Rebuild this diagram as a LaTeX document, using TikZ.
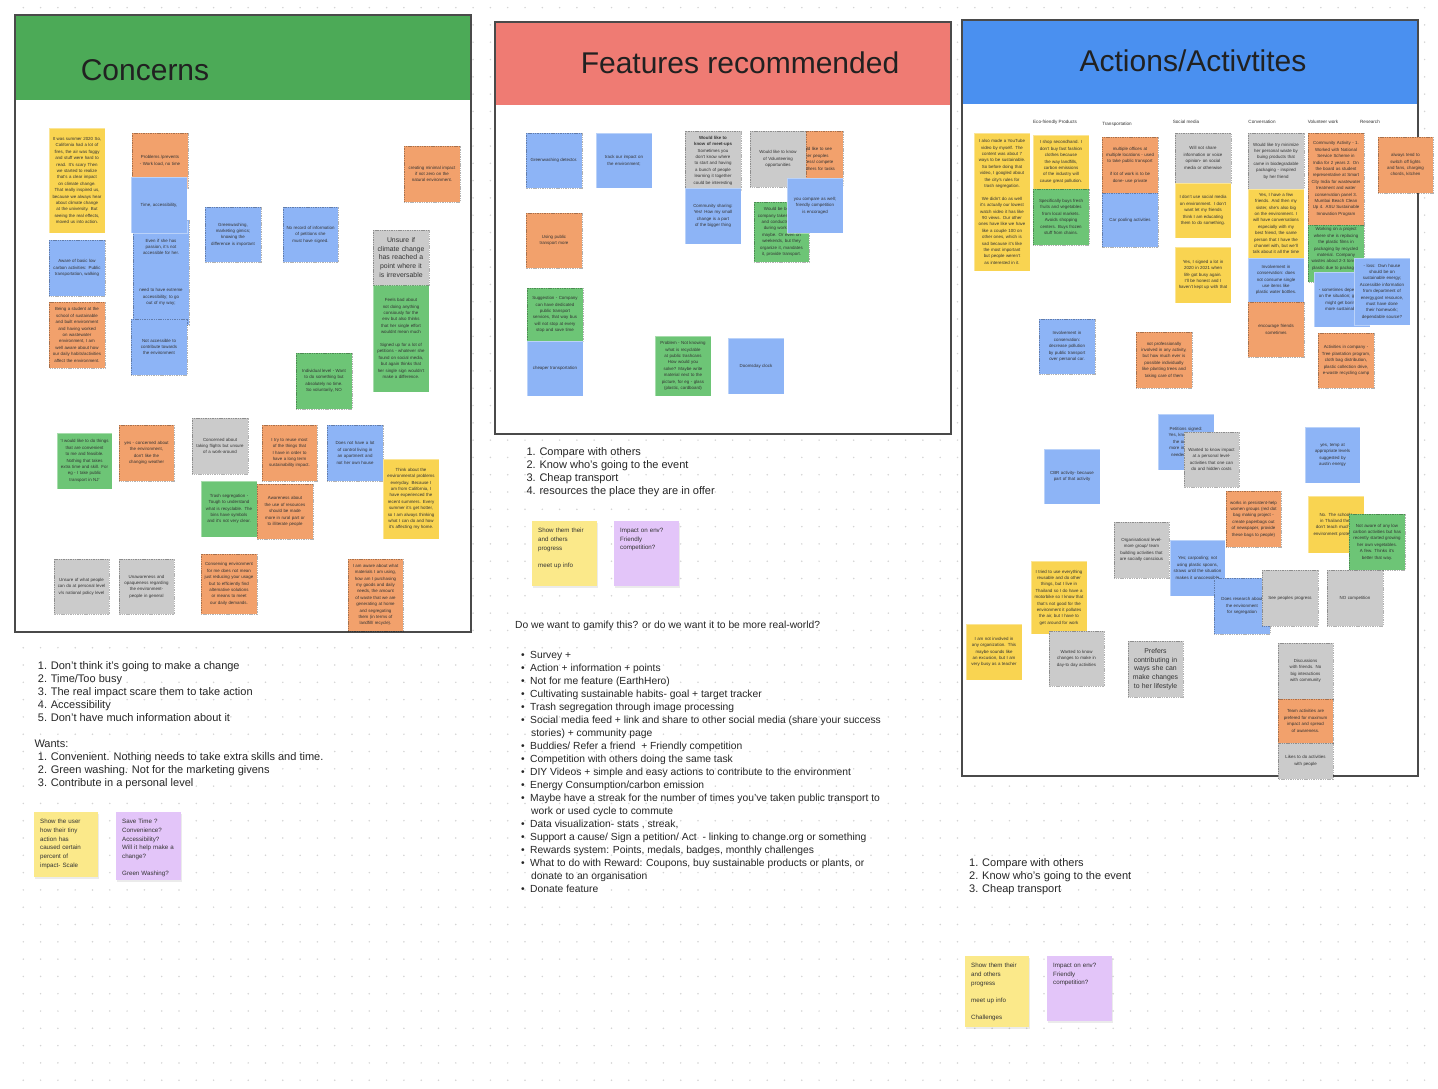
\documentclass[tikz,border=0pt]{standalone}
\usepackage{fontspec}
\setmainfont{Liberation Sans}
\hyphenpenalty=10000
\exhyphenpenalty=10000
\definecolor{cY}{HTML}{F9D451}
\definecolor{cO}{HTML}{F2A16C}
\definecolor{cB}{HTML}{8DB4F6}
\definecolor{cG}{HTML}{6DC576}
\definecolor{cR}{HTML}{CBCBCB}
\definecolor{hG}{HTML}{4CAA57}
\definecolor{hR}{HTML}{EF7B73}
\definecolor{hB}{HTML}{4A90F0}
\definecolor{lY}{HTML}{FBE98A}
\definecolor{lP}{HTML}{E3C5F9}
\definecolor{dotc}{HTML}{D4D4D4}
\definecolor{txt}{HTML}{333333}
\definecolor{frm}{HTML}{4A4A4A}
\tikzset{
  yel/.style={fill=cY}, ora/.style={fill=cO}, blu/.style={fill=cB},
  grn/.style={fill=cG}, gry/.style={fill=cR},
  dsh/.style={draw=black, draw opacity=0.3, line width=0.5pt, dash pattern=on 1.4pt off 0.9pt},
  pln/.style={draw=white, draw opacity=0.4, line width=0.4pt},
  stxt/.style={inner sep=0pt, align=center, text=txt, font=\fontsize{4.4}{6.4}\selectfont},
  big/.style={font=\fontsize{6.9}{8.7}\selectfont},
  frame/.style={draw=frm, line width=1.3pt},
  ttl/.style={anchor=base, inner sep=0pt, text=black!87, font=\fontsize{30}{36}\selectfont},
  lst/.style={anchor=base west, inner sep=0pt, text=black!85, font=\fontsize{11}{13}\selectfont},
  lsts/.style={anchor=base west, inner sep=0pt, text=black!85, font=\fontsize{10.3}{13}\selectfont},
  cat/.style={anchor=base, inner sep=0pt, text=txt, font=\fontsize{4.6}{6}\selectfont},
  note/.style={inner sep=0pt, anchor=north west, align=left, text=black!80, font=\fontsize{6.2}{8.7}\selectfont},
}
\newcommand{\sticky}[8][]{%
  \path[#3] (#4,#5) rectangle (#6,#7);
  \pgfmathsetmacro{\stkw}{#6-#4-7}%
  \node[stxt, text width=\stkw pt, #1] (#2) at ({(#4+#6)/2},{(#5+#7)/2}) {#8};%
}
\newcommand{\pnote}[7]{%
  \fill[black, opacity=0.08] ({#3+0.8},{#4+1.5}) rectangle ({#5+1},{#6+2});
  \fill[#2] (#3,#4) rectangle (#5,#6);
  \pgfmathsetmacro{\notew}{#5-#3-10}%
  \node[note, text width=\notew pt] (#1) at ({#3+6},{#4+7}) {#7};%
}
\newcommand{\hnum}[1]{\makebox[0pt][r]{#1\hspace{3.8pt}}}
\newcommand{\hbul}{\makebox[0pt][r]{\textbullet\hspace{5.5pt}}}
\begin{document}
\begin{tikzpicture}[x=1pt,y=-1pt]
\useasboundingbox (0,0) rectangle (1438,1088);
\fill[white] (0,0) rectangle (1438,1088);
\foreach \j in {0,...,62}{
  \pgfmathsetmacro{\dy}{7.6+17.3*\j}
  \foreach \i in {0,...,81}{
    \pgfmathsetmacro{\dx}{23.3+17.3*\i}
    \fill[dotc] (\dx,\dy) circle (0.85pt);
  }
}

% ---------- panels ----------
\fill[white] (15,15) rectangle (471,632);
\fill[hG] (15,15) rectangle (471,100);
\draw[frame] (15,15) rectangle (471,632);
\node[ttl] (tConcerns) at (145,80) {Concerns};

\fill[white] (495,22) rectangle (951,434);
\fill[hR] (495,22) rectangle (951,105);
\draw[frame] (495,22) rectangle (951,434);
\node[ttl] (tFeatures) at (740,73) {Features recommended};

\fill[white] (962,20) rectangle (1418,776);
\fill[hB] (962,20) rectangle (1418,104);
\draw[frame] (962,20) rectangle (1418,776);
\node[ttl] (tActions) at (1193,71) {Actions/Activtites};

% ---------- Concerns stickies ----------
\sticky{c1}{yel,pln}{49}{128}{105}{233}{It was summer 2020 So, California had a lot of fires, the air was foggy and stuff were hard to read. It's scary Then we started to realize that's a clear impact on climate change. That really inspired us, because we always hear about climate change at the university. But seeing the real effects, moved us into action.}
\sticky{c2}{blu,dsh}{49}{240}{105}{296}{Aware of basic low carbon activities: Public transportation, walking}
\sticky{c3}{ora,dsh}{49}{302}{105}{368}{Being a student at the school of sustainable and built environment and having worked on wastewater environment, I am well aware about how our daily habits/activities affect the environment.}
\sticky{c4}{ora,dsh}{132}{133}{188}{188}{Problems /prevents - Work load, no time}
\path[blu,dsh] (133,220) rectangle (189,325);
\node[stxt, text width=49pt] (c6) at (161,247) {Even if she has passion, it's not accessible for her.};
\node[stxt, text width=49pt] (c7) at (161,297) {need to have extreme accessibility; to go out of my way;};
\sticky{c5}{blu,pln}{131}{177}{187}{233}{Time, accessibility,}
\sticky{c8}{blu,dsh}{131}{319}{187}{375}{Not accessible to contribute towards the environment}
\sticky{c9}{blu,dsh}{205}{207}{261}{262}{Greenwashing, marketing gimics; knowing the difference is important}
\sticky{c10}{blu,dsh}{283}{207}{338}{262}{No record of information of petitions she must have signed.}
\sticky{c11}{ora,dsh}{404}{146}{460}{202}{creating minimal impact if not zero on the natural environment.}
\sticky{c13}{grn,pln}{373}{285}{429}{392}{Feels bad about not doing anything consiously for the env but also thinks that her single effort wouldnt mean much\\[6.4pt]Signed up for a lot of petitions - whatever she found on social media, but again thinks that her single sign wouldn't make a difference.}
\sticky[big]{c12}{gry,dsh}{373}{230}{429}{285}{Unsure if climate change has reached a point where it is irreversable}
\sticky{c14}{grn,dsh}{296}{353}{352}{409}{Individual level - Want to do something but absolutely no time. So voluntarily, NO}
\sticky{c15}{grn,pln}{57}{433}{112}{489}{`I would like to do things that are convenient to me and feasible. Nothing that takes extra time and skill. For eg - I take public transport in NJ'}
\sticky{c16}{ora,dsh}{119}{425}{174}{481}{yes - concerned about the environment, don't like the changing weather}
\sticky{c17}{gry,dsh}{192}{418}{248}{474}{Concerned about taking flights but unsure of a work-around}
\sticky{c18}{ora,dsh}{262}{425}{317}{481}{I try to reuse most of the things that I have in order to have a long term sustainability impact.}
\sticky{c19}{blu,dsh}{327}{425}{383}{481}{Does not have a lot of control living in an apartment and not her own house}
\sticky{c20}{yel,pln}{383}{459}{439}{539}{Think about the environmental problems everyday. Because I am from California, I have experienced the recent summers. Every summer it's get hotter, so I am always thinking what I can do and how it's affecting my home.}
\sticky{c21}{grn,pln}{201}{481}{257}{537}{Trash segregation - Tough to understand what is recyclable. The bins have symbols and it's not very clear.}
\sticky{c22}{ora,dsh}{257}{484}{313}{539}{Awareness about the use of resources should be made more in rural part or to illiterate people}
\sticky{c23}{gry,dsh}{54}{559}{109}{614}{Unsure of what people can do at personal level v/s national policy level}
\sticky{c24}{gry,dsh}{119}{559}{174}{614}{Unawareness and opaqueness regarding the environment- people in general}
\sticky{c25}{ora,dsh}{201}{554}{257}{614}{Conserving environment for me does not mean just reducing your usage but to efficiently find alternative solutions or means to meet our daily demands.}
\sticky{c26}{ora,dsh}{348}{559}{403}{631}{I am aware about what materials I am using, how am I purchasing my goods and daily needs, the amount of waste that we are generating at home and segregating them (in terms of landfill/ recycle).}

% ---------- Features stickies ----------
\sticky{f1}{blu,dsh}{526}{133}{582}{188}{Greenwashing detector.}
\sticky{f2}{blu,pln}{596}{133}{652}{188}{track our impact on the environment;}
\sticky{f3}{ora,dsh}{787}{131}{843}{187}{Would like to see other peoples progress/ compete with others for tasks}
\sticky{f4}{gry,dsh}{685}{131}{741}{190}{\textbf{Would like to know of meet-ups}\\Sometimes you don't know where to start and having a bunch of people learning it together could be interesting}
\sticky{f5}{blu,pln}{685}{188}{741}{244}{Community sharing: Yes! How my small change is a part of the bigger thing}
\sticky{f6}{gry,dsh}{750}{131}{806}{187}{Would like to know of Volunteering opportunities}
\sticky{f7}{grn,dsh}{754}{202}{809}{262}{Would be better if company takes initiative and conducts drives during work hours maybe. Or even on weekends, but they organize it, mandates it, provide transport.}
\sticky{f8}{blu,pln}{787}{178}{843}{233}{you compare as well; friendly competition is encoraged}
\sticky{f9}{ora,dsh}{526}{213}{582}{268}{Using public transport more}
\sticky{f10}{grn,dsh}{527}{288}{583}{341}{Suggestion - Company can have dedicated public transport services, that way bus will not stop at every stop and save time}
\sticky{f11}{blu,pln}{527}{341}{583}{396}{cheaper transportation}
\sticky{f12}{grn,pln}{655}{336}{711}{396}{Problem - Not knowing what is recyclable at public trashcans How would you solve? Maybe write material next to the picture, for eg - glass (plastic, cardboard)}
\sticky{f13}{blu,pln}{728}{338}{784}{394}{Doomsday clock}

% ---------- Actions categories ----------
\node[cat] (k1) at (1055,123) {Eco-friendly Products};
\node[cat] (k2) at (1117,125) {Transportation};
\node[cat] (k3) at (1186,123) {Social media};
\node[cat] (k4) at (1262,123) {Conversation};
\node[cat] (k5) at (1323,123) {Volunteer work};
\node[cat] (k6) at (1370,123) {Research};

% ---------- Actions stickies ----------
\sticky{a1}{yel,pln}{974}{133}{1030}{271}{I also made a YouTube video by myself. The content was about 7 ways to be sustainable. So before doing that video, I googled about the city's rules for trash segregation.\\[6.4pt]We didn't do as well it's actually our lowest watch video it has like 90 views. Our other ones have like we have like a couple 100 on other ones, which is sad because it's like the most important but people weren't as interested in it.}
\sticky{a2}{yel,pln}{1033}{135}{1089}{189}{I shop secondhand. I don't buy fast fashion clothes because the way landfills, carbon emissions of the industry will cause great pollution.}
\sticky{a3}{grn,dsh}{1033}{189}{1089}{245}{Specifically buys fresh fruits and vegetables from local markets. Avoids shopping centers. Buys frozen stuff from chains.}
\sticky{a4}{ora,dsh}{1102}{137}{1158}{193}{multiple offices at multiple locations - used to take public transport\\[6.4pt]if lot of work is to be done- use private}
\sticky{a5}{blu,dsh}{1102}{193}{1158}{247}{Car pooling activities}
\sticky{a6}{gry,dsh}{1175}{133}{1231}{183}{Will not share information or voice opinion- on social media or otherwise}
\sticky{a7}{yel,pln}{1175}{183}{1231}{238}{I don't use social media on environment. I don't want let my friends think I am educating them to do something.}
\sticky{a8}{yel,pln}{1175}{247}{1231}{303}{Yes, I signed a lot in 2020 in 2021 when life got busy again. I'll be honest and I haven't kept up with that}
\sticky{a9}{gry,dsh}{1248}{133}{1304}{189}{Would like try minimize her personal waste by buing products that came in biodegradable packaging - inspired by her friend}
\sticky{a10}{yel,pln}{1248}{189}{1304}{258}{Yes, I have a few friends. And then my sister, she's also big on the environment. I will have conversations especially with my best friend, the same person that I have the channel with, but we'll talk about it all the time}
\sticky{a11}{blu,pln}{1248}{258}{1304}{302}{Involvement in conservation: does not consume single use items like plastic water bottles.}
\sticky{a12}{ora,dsh}{1248}{302}{1304}{357}{encourage friends sometimes}
\sticky{a13}{ora,dsh}{1308}{133}{1364}{225}{Community Activity - 1. Worked with National Service Scheme in India for 2 years 2. On the board as student representative at Smart City India for wastewater treatment and water conservation panel 3. Mumbai Beach Clean Up 4. ASU Sustainable Innovation Program}
\path[grn,dsh] (1308,225) rectangle (1364,282);
\node[stxt, text width=49pt, anchor=north] (a14) at (1336,227.5) {Working on a project where she is replacing the plastic films in packaging by recycled material. Company wastes about 2-3 tons of plastic due to packaging};
\sticky{a15}{blu,pln}{1314}{272}{1370}{327}{- sometimes depending on the situation; getting might get boring; more sustainable}
\sticky{a16}{blu,pln}{1354}{258}{1410}{325}{- loss: Own house should be on sustainable energy; Accessible information from department of energy,govt resource, must have done their homework; dependable source?}
\sticky{a17}{ora,dsh}{1318}{333}{1374}{388}{Activities in company - Tree plantation program, cloth bag distribution, plastic collection drive, e-waste recycling camp}
\sticky{a18}{ora,dsh}{1378}{137}{1433}{193}{always tend to switch off lights and fans, charging chords, kitchen}
\sticky{a19}{blu,dsh}{1039}{319}{1095}{374}{Involvement in conservation: decrease pollution by public transport over personal car.}
\sticky{a20}{ora,dsh}{1136}{332}{1192}{388}{not professionally involved in any activity, but how much ever is possible individually like planting trees and taking care of them}
\sticky{a21}{blu,pln}{1044}{449}{1100}{504}{CBR activity- because part of that activity}
\sticky{a22}{blu,pln}{1158}{414}{1214}{470}{Petitions signed: Yes, knows about the outcome; more information needed; Aware}
\sticky{a23}{gry,dsh}{1184}{432}{1239}{487}{Wanted to know impact at a personal level- activities that one can do and hidden costs}
\sticky{a24}{blu,pln}{1305}{427}{1360}{483}{yes, temp at appropriate levels suggested by austin energy}
\sticky{a25}{ora,dsh}{1226}{491}{1281}{547}{works in persistent-help women groups (red dot bag making project - create paperbags out of newspaper, provide these bags to people)}
\sticky{a26}{yel,pln}{1308}{496}{1364}{553}{No. The schools in Thailand they don't teach much on environment protection}
\sticky{a27}{grn,dsh}{1349}{514}{1405}{570}{Not aware of any low carbon activities but has recently started growing her own vegetables. A few. Thinks it's better that way.}
\sticky{a28}{gry,dsh}{1114}{522}{1169}{578}{Organisational level- more group/ team building activities that are socially conscious}
\sticky{a29}{blu,pln}{1170}{540}{1225}{596}{Yes; carpooling; not using plastic spoons, straws until the situation makes it unaccessible}
\sticky{a30}{blu,dsh}{1214}{578}{1270}{634}{Does research about the environment for segregation}
\sticky{a31}{gry,dsh}{1262}{570}{1318}{626}{See peoples progress}
\sticky{a32}{gry,dsh}{1327}{570}{1383}{626}{NO competition}
\sticky{a33}{yel,pln}{1031}{561}{1087}{634}{I tried to use everything reusable and do other things, but I live in Thailand so I do have a motorbike so I know that that's not good for the environment it pollutes the air, but I have to get around for work}
\sticky{a34}{yel,pln}{966}{624}{1022}{680}{I am not involved in any organization. This maybe sounds like an excusion, but I am very busy as a teacher}
\sticky{a35}{gry,dsh}{1049}{631}{1104}{686}{Wanted to know changes to make in day-to day activities}
\sticky[big]{a36}{gry,dsh}{1128}{641}{1183}{697}{Prefers contributing in ways she can make changes to her lifestyle}
\sticky{a37}{gry,dsh}{1278}{643}{1333}{699}{Discussions with friends. No big interactions with community}
\sticky{a38}{ora,dsh}{1278}{699}{1333}{743}{Team activities are prefered for maximum impact and spread of awareness.}
\sticky{a39}{gry,dsh}{1278}{743}{1333}{779}{Likes to do activities with people}

% ---------- Concerns text ----------
\node[lst] (cl1) at (50.7,669) {\hnum{1.}Don't think it's going to make a change};
\node[lst] (cl2) at (50.7,682) {\hnum{2.}Time/Too busy};
\node[lst] (cl3) at (50.7,695) {\hnum{3.}The real impact scare them to take action};
\node[lst] (cl4) at (50.7,708) {\hnum{4.}Accessibility};
\node[lst] (cl5) at (50.7,721) {\hnum{5.}Don't have much information about it};
\node[lst] (cw0) at (34.3,747) {Wants:};
\node[lst] (cw1) at (50.7,760) {\hnum{1.}Convenient. Nothing needs to take extra skills and time.};
\node[lst] (cw2) at (50.7,773) {\hnum{2.}Green washing. Not for the marketing givens};
\node[lst] (cw3) at (50.7,786) {\hnum{3.}Contribute in a personal level};
\pnote{cn1}{lY}{34}{812}{98}{877}{Show the user\\how their tiny\\action has\\caused certain\\percent of\\impact- Scale}
\pnote{cn2}{lP}{116}{812}{181}{880}{Save Time ?\\Convenience?\\Accessibility?\\Will it help make a\\change?\\[8.7pt]Green Washing?}

% ---------- Features text ----------
\node[lst] (fl1) at (539.3,455) {\hnum{1.}Compare with others};
\node[lst] (fl2) at (539.3,468) {\hnum{2.}Know who's going to the event};
\node[lst] (fl3) at (539.3,481) {\hnum{3.}Cheap transport};
\node[lst] (fl4) at (539.3,494) {\hnum{4.}resources the place they are in offer};
\pnote{fn1}{lY}{532}{521}{597}{586}{Show them their\\and others\\progress\\[8.7pt]meet up info}
\pnote{fn2}{lP}{614}{521}{679}{586}{Impact on env?\\Friendly\\competition?}
\node[lsts] (fq) at (515,628) {Do we want to gamify this? or do we want it to be more real-world?};
\node[lsts] (fb1) at (530,658) {\hbul Survey +};
\node[lsts] (fb2) at (530,671) {\hbul Action + information + points};
\node[lsts] (fb3) at (530,684) {\hbul Not for me feature (EarthHero)};
\node[lsts] (fb4) at (530,697) {\hbul Cultivating sustainable habits- goal + target tracker};
\node[lsts] (fb5) at (530,710) {\hbul Trash segregation through image processing};
\node[lsts] (fb6) at (530,723) {\hbul Social media feed + link and share to other social media (share your success};
\node[lsts] (fb6b) at (531,736) {stories) + community page};
\node[lsts] (fb7) at (530,749) {\hbul Buddies/ Refer a friend\ \ + Friendly competition};
\node[lsts] (fb8) at (530,762) {\hbul Competition with others doing the same task};
\node[lsts] (fb9) at (530,775) {\hbul DIY Videos + simple and easy actions to contribute to the environment};
\node[lsts] (fb10) at (530,788) {\hbul Energy Consumption/carbon emission};
\node[lsts] (fb11) at (530,801) {\hbul Maybe have a streak for the number of times you've taken public transport to};
\node[lsts] (fb11b) at (531,814) {work or used cycle to commute};
\node[lsts] (fb12) at (530,827) {\hbul Data visualization- stats , streak,};
\node[lsts] (fb13) at (530,840) {\hbul Support a cause/ Sign a petition/ Act\ \ - linking to change.org or something};
\node[lsts] (fb14) at (530,853) {\hbul Rewards system: Points, medals, badges, monthly challenges};
\node[lsts] (fb15) at (530,866) {\hbul What to do with Reward: Coupons, buy sustainable products or plants, or};
\node[lsts] (fb15b) at (531,879) {donate to an organisation};
\node[lsts] (fb16) at (530,892) {\hbul Donate feature};

% ---------- Actions text ----------
\node[lst] (al1) at (982,866) {\hnum{1.}Compare with others};
\node[lst] (al2) at (982,879) {\hnum{2.}Know who's going to the event};
\node[lst] (al3) at (982,892) {\hnum{3.}Cheap transport};
\pnote{an1}{lY}{965}{956}{1029}{1027}{Show them their\\and others\\progress\\[8.7pt]meet up info\\[8.7pt]Challenges}
\pnote{an2}{lP}{1047}{956}{1112}{1021}{Impact on env?\\Friendly\\competition?}
\end{tikzpicture}
\end{document}
